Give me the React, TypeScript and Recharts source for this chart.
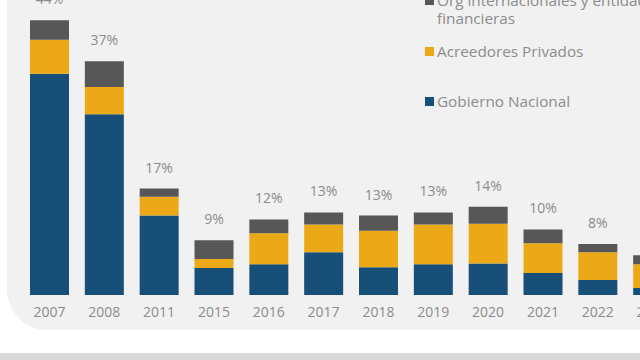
import { BarChart, Bar, XAxis, YAxis, LabelList } from "recharts";

// debt service by creditor, %
const years = ["2007", "2008", "2011", "2015", "2016", "2017", "2018", "2019", "2020", "2021", "2022", "2023"];
const gobierno = [35.1, 28.7, 12.6, 4.3, 4.9, 6.8, 4.4, 4.9, 5.0, 3.5, 2.4, 1.1];
const acreedores = [5.4, 4.3, 3.0, 1.4, 4.9, 4.4, 5.8, 6.3, 6.3, 4.7, 4.4, 3.8];
const organismos = [3.1, 4.1, 1.3, 3.0, 2.2, 1.9, 2.4, 1.9, 2.7, 2.2, 1.3, 1.4];
const totals = ["44%", "37%", "17%", "9%", "12%", "13%", "13%", "13%", "14%", "10%", "8%", "6%"];

const data = years.map((y, i) => ({
  year: y,
  gob: gobierno[i],
  acr: acreedores[i],
  org: organismos[i],
  total: totals[i],
}));

const FONT = "'Open Sans', sans-serif";
const BLUE = "#184f79";
const YELLOW = "#eba918";
const GREY = "#575757";
const TEXT = "#8c8c8c";

const legendItems = [
  { label: "Org internacionales y entidades financieras", color: GREY, top: -9 },
  { label: "Acreedores Privados", color: YELLOW, top: 42 },
  { label: "Gobierno Nacional", color: BLUE, top: 92 },
];

// legend sits to the right of the tall bars, outside the plot's layout
function SideLegend() {
  return (
    <div style={{ position: "absolute", left: 425, top: 0, width: 260, fontFamily: FONT }}>
      {legendItems.map((it) => (
        <div key={it.label} style={{ position: "absolute", left: 0, top: it.top, display: "flex", alignItems: "flex-start" }}>
          <span style={{ width: 9, height: 9, background: it.color, marginTop: 5, marginRight: 3, flex: "none" }} />
          <span style={{ color: TEXT, fontSize: 15.3, lineHeight: "18px", width: 240 }}>{it.label}</span>
        </div>
      ))}
    </div>
  );
}

export default function App() {
  return (
    <div style={{ position: "absolute", left: 0, top: 0, width: 640, height: 360, overflow: "hidden", background: "#fff" }}>
      <div
        style={{
          position: "absolute", left: 7, top: -50, width: 700, height: 380,
          background: "#f1f1f1", borderBottomLeftRadius: 40,
        }}
      />
      <div style={{ position: "absolute", left: 0, top: 353, width: 640, height: 7, background: "#dadada" }} />
      <div style={{ position: "absolute", left: 0, top: -40 }}>
        <BarChart
          width={680}
          height={380}
          data={data}
          margin={{ top: 20, right: 0, left: 22, bottom: 15 }}
          barSize={39}
        >
          <XAxis
            dataKey="year"
            tickLine={false}
            axisLine={false}
            tickMargin={6}
            interval={0}
            tick={{ fill: TEXT, fontSize: 14, fontFamily: FONT }}
          />
          <YAxis hide domain={[0, 50]} />
          <Bar dataKey="gob" stackId="a" fill={BLUE} isAnimationActive={false} />
          <Bar dataKey="acr" stackId="a" fill={YELLOW} isAnimationActive={false} />
          <Bar dataKey="org" stackId="a" fill={GREY} isAnimationActive={false}>
            <LabelList dataKey="total" position="top" offset={16} fill={TEXT} fontSize={14} fontFamily={FONT} />
          </Bar>
        </BarChart>
      </div>
      <SideLegend />
    </div>
  );
}
